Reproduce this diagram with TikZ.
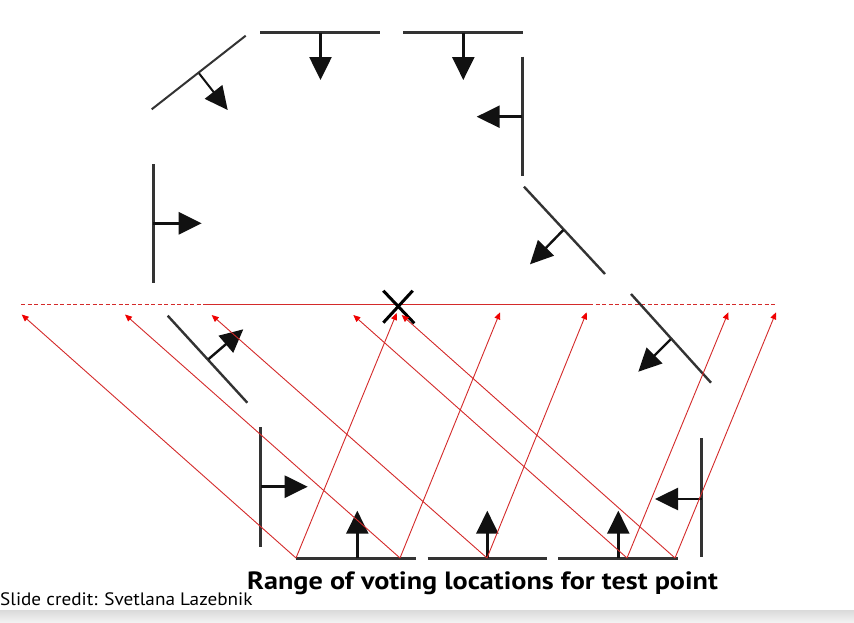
\documentclass[tikz,border=0pt]{standalone}
\usepackage{fontspec}
\setmainfont{PT Sans}
\usetikzlibrary{arrows.meta}
\definecolor{wallc}{HTML}{333333}
\definecolor{headc}{HTML}{111111}
\definecolor{votec}{HTML}{D42A2A}
\definecolor{tipc}{HTML}{F00000}
\tikzset{
  edgeseg/.style={draw=wallc, line width=2.6pt},
  thinseg/.style={draw=wallc, line width=2pt},
  normal/.style={draw=headc, line width=2.6pt, -{Triangle[length=23pt,width=22pt]}},
  vote/.style={draw=votec, line width=0.9pt, -{Triangle[length=7pt,width=6pt,fill=tipc,color=tipc]}},
  refline/.style={draw=votec, line width=0.9pt},
  refdash/.style={draw=votec, line width=0.9pt, dash pattern=on 4pt off 2.5pt},
  cross/.style={draw=black, line width=3pt},
}
\begin{document}
\begin{tikzpicture}[x=1pt,y=-1pt]
\useasboundingbox (0,0) rectangle (854,622);
\fill[white] (0,0) rectangle (854,622);
\shade[top color=black!14, bottom color=black!5] (0,610.5) rectangle (854,622);

% reference line through the test point
\coordinate (r0) at (21,304);
\coordinate (r1) at (206,304);
\coordinate (r2) at (589,304);
\coordinate (r3) at (776,304);
\draw[refdash] (r0) -- (r1);
\draw[refline] (r1) -- (r2);
\draw[refdash] (r2) -- (r3);

% test point cross
\coordinate (xa) at (383.3,290.7);
\coordinate (xb) at (414.3,323.3);
\coordinate (xc) at (412.7,290.7);
\coordinate (xd) at (383.3,322.7);
\draw[cross] (xa) -- (xb);
\draw[cross] (xc) -- (xd);

% top-left diagonal
\coordinate (a1) at (151.7,109.3); \coordinate (a2) at (245.7,35.7);
\coordinate (a3) at (199,73.3); \coordinate (a4) at (227.7,110);
\draw[thinseg] (a1) -- (a2);
\draw[normal, line width=2pt] (a3) -- (a4);

% top horizontals
\coordinate (b1) at (260,32.7); \coordinate (b2) at (380,32.7);
\coordinate (b3) at (320.5,32.7); \coordinate (b4) at (320.5,80);
\draw[edgeseg] (b1) -- (b2);
\draw[normal] (b3) -- (b4);
\coordinate (c1) at (403.3,32.7); \coordinate (c2) at (522.7,32.7);
\coordinate (c3) at (463.3,32.7); \coordinate (c4) at (463.3,80);
\draw[edgeseg] (c1) -- (c2);
\draw[normal] (c3) -- (c4);

% right vertical (top)
\coordinate (d1) at (522.3,56.7); \coordinate (d2) at (522.3,176);
\coordinate (d3) at (522.3,116.7); \coordinate (d4) at (476.7,116.7);
\draw[edgeseg] (d1) -- (d2);
\draw[normal] (d3) -- (d4);

% left vertical (top)
\coordinate (e1) at (153.3,164); \coordinate (e2) at (153.3,283.3);
\coordinate (e3) at (153.3,223.3); \coordinate (e4) at (201.7,223.3);
\draw[edgeseg] (e1) -- (e2);
\draw[normal] (e3) -- (e4);

% right diagonal (upper)
\coordinate (f1) at (524,186.7); \coordinate (f2) at (605,274);
\coordinate (f3) at (563.3,230); \coordinate (f4) at (530,264.3);
\draw[thinseg, line width=2.4pt] (f1) -- (f2);
\draw[normal, line width=2.4pt] (f3) -- (f4);

% left diagonal (middle)
\coordinate (g1) at (167.7,315.7); \coordinate (g2) at (247.3,402.7);
\coordinate (g3) at (208.3,359.3); \coordinate (g4) at (243.3,329.3);
\draw[thinseg, line width=2.4pt] (g1) -- (g2);
\draw[normal, line width=2.4pt] (g3) -- (g4);

% right diagonal (middle)
\coordinate (h1) at (631,294); \coordinate (h2) at (711,382.7);
\coordinate (h3) at (670.7,339.3); \coordinate (h4) at (638.3,371.7);
\draw[thinseg, line width=2.4pt] (h1) -- (h2);
\draw[normal, line width=2.4pt] (h3) -- (h4);

% bottom verticals
\coordinate (i1) at (260.7,427.3); \coordinate (i2) at (260.7,546.7);
\coordinate (i3) at (260.7,486.7); \coordinate (i4) at (307.7,486.7);
\draw[edgeseg] (i1) -- (i2);
\draw[normal] (i3) -- (i4);
\coordinate (j1) at (701.7,438.3); \coordinate (j2) at (701.7,557.3);
\coordinate (j3) at (701.7,499); \coordinate (j4) at (655,499);
\draw[edgeseg] (j1) -- (j2);
\draw[normal] (j3) -- (j4);

% bottom horizontals
\coordinate (k1) at (296,558.3); \coordinate (k2) at (415.7,558.3);
\coordinate (k3) at (357.3,558.3); \coordinate (k4) at (357.3,510.7);
\draw[edgeseg] (k1) -- (k2);
\draw[normal] (k3) -- (k4);
\coordinate (l1) at (427.7,558.3); \coordinate (l2) at (547.3,558.3);
\coordinate (l3) at (487.3,558.3); \coordinate (l4) at (487.3,510.7);
\draw[edgeseg] (l1) -- (l2);
\draw[normal] (l3) -- (l4);
\coordinate (m1) at (558.3,558.3); \coordinate (m2) at (678.3,558.3);
\coordinate (m3) at (618.3,558.3); \coordinate (m4) at (618.3,510.7);
\draw[edgeseg] (m1) -- (m2);
\draw[normal] (m3) -- (m4);

% voting vectors
\coordinate (p1) at (296,558); \coordinate (p2) at (400,558);
\coordinate (p3) at (487,558); \coordinate (p4) at (627,558);
\coordinate (p5) at (675,558);
\coordinate (u1) at (21.7,314.5); \coordinate (u2) at (125,314.5);
\coordinate (u3) at (211.7,315); \coordinate (u4) at (353.3,315);
\coordinate (u5) at (401.7,315);
\coordinate (v1) at (396.7,313); \coordinate (v2) at (500,312.3);
\coordinate (v3) at (586.7,312.3); \coordinate (v4) at (728.3,312.3);
\coordinate (v5) at (776,312.3);
\foreach \i in {1,...,5} {
  \draw[vote] (p\i) -- (u\i);
  \draw[vote] (p\i) -- (v\i);
}

% captions
\node[anchor=base west, inner sep=0pt, font=\fontsize{25}{28}\selectfont\bfseries] (title) at (247,589.5) {\scalebox{1.127}[1]{Range of voting locations for test point}};
\node[anchor=base west, inner sep=0pt, font=\fontsize{18}{21}\selectfont] (credit) at (0,605) {\scalebox{1.067}[1]{Slide credit: Svetlana Lazebnik}};
\end{tikzpicture}
\end{document}
